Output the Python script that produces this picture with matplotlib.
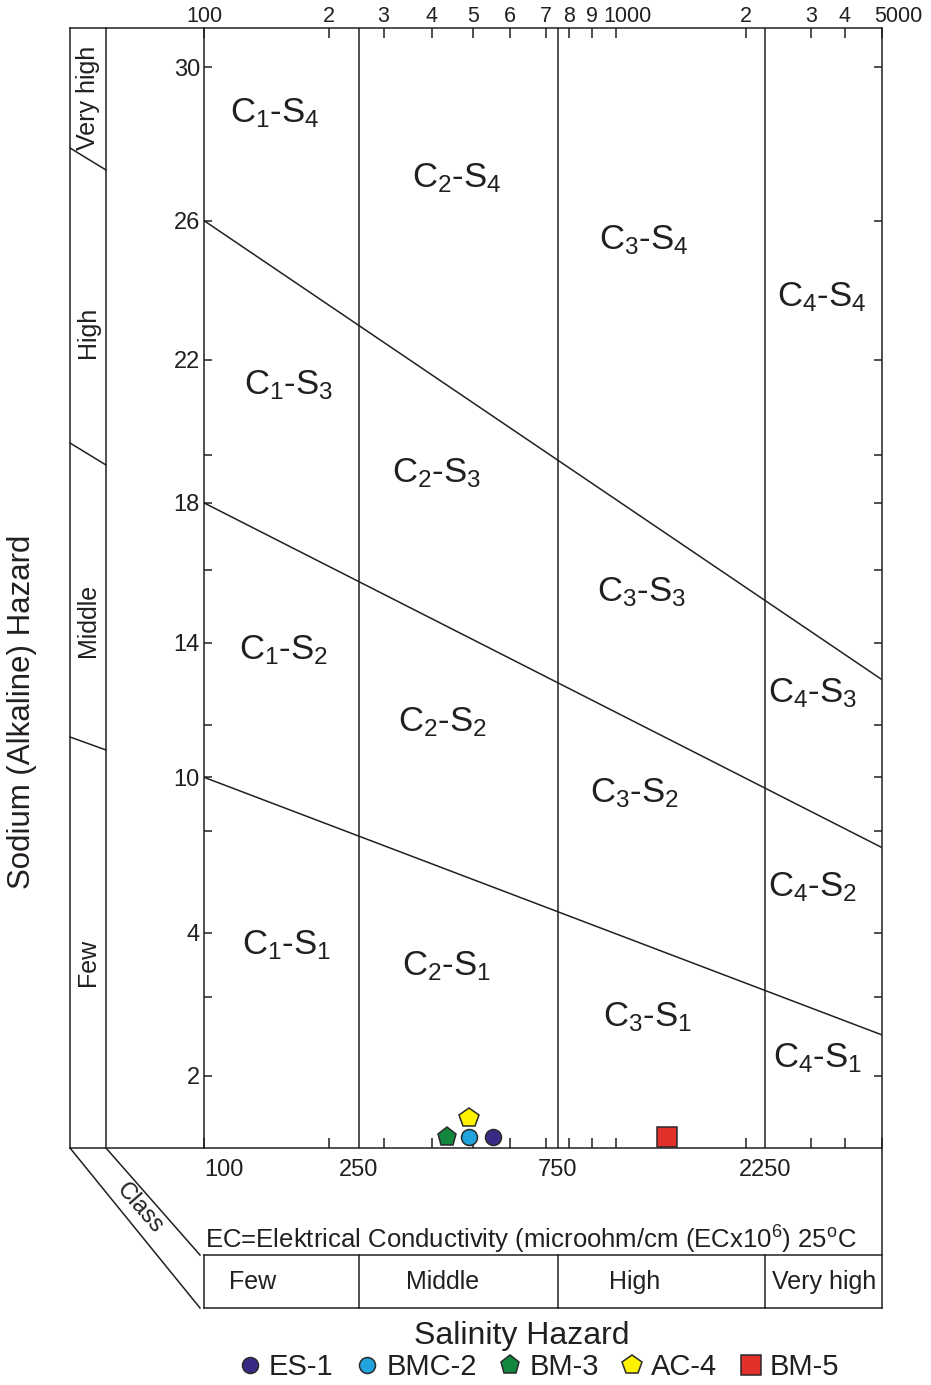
import numpy as np
import matplotlib
matplotlib.use('Agg')
import matplotlib.pyplot as plt
from matplotlib.lines import Line2D
from matplotlib.transforms import blended_transform_factory, ScaledTranslation

plt.rcParams.update({'font.family': ['Liberation Sans', 'DejaVu Sans'],
                     'mathtext.fontset': 'custom', 'mathtext.rm': 'Liberation Sans',
                     'mathtext.it': 'Liberation Sans', 'mathtext.default': 'regular'})
INK = '#231f20'
W, H = 931, 1385

# water samples: EC (microS/cm) and SAR
samples = ['ES-1', 'BMC-2', 'BM-3', 'AC-4', 'BM-5']
ec = [552, 489, 434, 489, 1313]
sar = [0.30, 0.30, 0.30, 0.82, 0.30]
colors = ['#3a2a86', '#21a3dd', '#12883f', '#fff200', '#e2312a']
markers = ['o', 'o', 'p', 'p', 's']
msize = [11.5, 11.5, 14, 15, 14]

# salinity classes (EC limits) and sodium class boundaries (SAR at EC=100 and EC=5000)
ec_limits = [250, 750, 2250]
sal_class = ['Few', 'Middle', 'High', 'Very high']
sal_mid = [131, 424, 1106, 3350]
sod_left = [10, 18, 26]
sod_right = [2.52, 7.35, 13.1]

# C-S zone labels
zones = ['C$_1$-S$_4$', 'C$_2$-S$_4$', 'C$_3$-S$_4$', 'C$_4$-S$_4$',
         'C$_1$-S$_3$', 'C$_2$-S$_3$', 'C$_3$-S$_3$', 'C$_4$-S$_3$',
         'C$_1$-S$_2$', 'C$_2$-S$_2$', 'C$_3$-S$_2$', 'C$_4$-S$_2$',
         'C$_1$-S$_1$', 'C$_2$-S$_1$', 'C$_3$-S$_1$', 'C$_4$-S$_1$']
zone_ec = [148, 458, 1161, 3290,
           160, 411, 1149, 3050,
           156, 424, 1106, 3050,
           158, 434, 1186, 3180]
zone_sar = [28.8, 27.1, 25.45, 23.8,
            21.46, 19.25, 15.4, 12.76,
            13.83, 12.07, 9.4, 5.8,
            3.81, 3.48, 2.75, 2.23]

# graduation of the (hand drawn) axes: value -> fraction of axis length
ec_grad = [100, 200, 300, 400, 500, 600, 700, 800, 900, 1000, 2000, 3000, 4000, 5000]
ec_frac = [0, 0.184, 0.265, 0.336, 0.397, 0.451, 0.504, 0.538, 0.572, 0.608,
           0.799, 0.895, 0.945, 1.0]
ec_labels = ['100', '2', '3', '4', '5', '6', '7', '8', '9', '1000', '2', '3', '4', '5000']
sar_grad = [0, 2, 3, 4, 8, 10, 12, 14, 16, 18, 20, 22, 26, 30, 31]
sar_frac = [0, 0.0643, 0.1348, 0.192, 0.283, 0.331, 0.378, 0.451, 0.516, 0.576,
            0.619, 0.704, 0.828, 0.965, 1.0]
sar_ticks = [2, 3, 4, 8, 10, 12, 14, 16, 18, 20, 22, 26, 30]
sar_labels = ['2', '', '4', '', '10', '', '14', '', '18', '', '22', '26', '30']

lg_grad = np.log10(ec_grad)


def ec_fwd(v):
    return np.interp(np.log10(np.clip(v, 1, None)), lg_grad, ec_frac)


def ec_inv(f):
    return 10 ** np.interp(f, ec_frac, lg_grad)


def sar_fwd(v):
    return np.interp(v, sar_grad, sar_frac)


def sar_inv(f):
    return np.interp(f, sar_frac, sar_grad)


def fx(x):
    return x / W


def fy(y):
    return 1 - y / H


def seg(x0, y0, x1, y1, trans=None):
    t = fig.transFigure if trans is None else trans
    fig.add_artist(Line2D([x0, x1], [y0, y1], transform=t, color=INK, lw=1.1))


fig = plt.figure(figsize=(W / 100, H / 100), dpi=100)
ax = fig.add_axes([fx(204), fy(1148), fx(882) - fx(204), fy(28) - fy(1148)])
ax.set_xscale('function', functions=(ec_fwd, ec_inv))
ax.set_yscale('function', functions=(sar_fwd, sar_inv))
ax.set_xlim(100, 5000)
ax.set_ylim(0, 31)
for s in ax.spines.values():
    s.set_color(INK); s.set_linewidth(1.1)

ax.set_xticks(ec_grad)
ax.set_xticklabels(ec_labels)
ax.xaxis.set_minor_locator(matplotlib.ticker.NullLocator())
ax.tick_params(axis='x', top=True, bottom=True, labeltop=True, labelbottom=False,
               direction='in', length=7, width=1.1, color=INK, pad=1, labelsize=15.5,
               labelcolor=INK)
# nudge the decade labels so they clear their neighbours
tl = ax.xaxis.get_majorticklabels()
tl[9].set_transform(tl[9].get_transform() + ScaledTranslation(0.11, 0, fig.dpi_scale_trans))
tl[13].set_transform(tl[13].get_transform() + ScaledTranslation(0.16, 0, fig.dpi_scale_trans))
ax.set_yticks(sar_ticks)
ax.set_yticklabels(sar_labels)
ax.yaxis.set_minor_locator(matplotlib.ticker.NullLocator())
ax.tick_params(axis='y', left=True, right=True, direction='in', length=6, width=1.1,
               color=INK, pad=3, labelsize=17, labelcolor=INK)

# class boundaries
for v in ec_limits:
    ax.axvline(v, color=INK, lw=1.1)
for a, b in zip(sod_left, sod_right):
    ax.plot([100, 5000], [a, b], color=INK, lw=1.1)

for lab, x, y in zip(zones, zone_ec, zone_sar):
    ax.text(x, y, lab, ha='center', va='center', fontsize=25, color=INK)

for name, x, y, c, m, ms in zip(samples, ec, sar, colors, markers, msize):
    ax.plot(x, y, ls='none', marker=m, ms=ms, mfc=c, mec='#2a2a2a', mew=1.1,
            label=name, clip_on=False, zorder=5)

# left class column
seg(fx(70), fy(28), fx(204), fy(28))
seg(fx(70), fy(28), fx(70), fy(1148))
seg(fx(106), fy(28), fx(106), fy(1148))
seg(fx(70), fy(1148), fx(204), fy(1148))
for y0, y1 in [(148, 170), (443, 465), (737, 750)]:
    seg(fx(70), fy(y0), fx(106), fy(y1))
for lab, y in [('Very high', 98), ('High', 332), ('Middle', 620), ('Few', 962)]:
    fig.text(fx(88), fy(y), lab, rotation=90, ha='center', va='center', fontsize=18, color=INK)
fig.text(fx(22), fy(712), 'Sodium (Alkaline) Hazard', rotation=90, ha='center', va='center',
         fontsize=22.5, color=INK)

# salinity class block below the diagram
bt = blended_transform_factory(ax.transData, fig.transFigure)
seg(fx(882), fy(1148), fx(882), fy(1308))
seg(100, fy(1255), 5000, fy(1255), bt)
seg(100, fy(1308), 5000, fy(1308), bt)
seg(100, fy(1255), 100, fy(1308), bt)
for v in ec_limits:
    seg(v, fy(1255), v, fy(1308), bt)
seg(fx(70), fy(1148), fx(200), fy(1308))
seg(fx(106), fy(1148), fx(200), fy(1255))
fig.text(fx(140), fy(1208), 'Class', rotation=-49, ha='center', va='center', fontsize=17,
         color=INK, rotation_mode='anchor')
for v in [100] + ec_limits:
    fig.text(v, fy(1170), str(v), transform=bt, ha='left' if v == 100 else 'center',
             va='center', fontsize=17, color=INK)
fig.text(fx(205), fy(1240), 'EC=Elektrical Conductivity (microohm/cm (ECx10$^{6}$) 25$^{o}$C',
         ha='left', va='center', fontsize=18.5, color=INK)
for lab, x in zip(sal_class, sal_mid):
    fig.text(x, fy(1282), lab, transform=bt, ha='center', va='center', fontsize=18, color=INK)

fig.text(fx(522), fy(1336), 'Salinity Hazard', ha='center', va='center', fontsize=23, color=INK)
h, l = ax.get_legend_handles_labels()
fig.legend(h, l, loc='center', bbox_to_anchor=(fx(536), fy(1367)), ncol=5, frameon=False,
           fontsize=21, handletextpad=0.05, columnspacing=0.55, handlelength=1.2,
           borderpad=0, labelcolor=INK)

fig.savefig('out.png', dpi=100)
